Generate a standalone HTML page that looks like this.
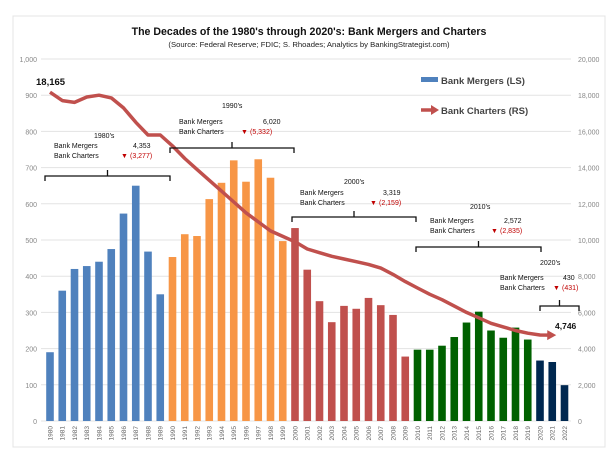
<!DOCTYPE html>
<html><head><meta charset="utf-8"><style>
body{margin:0;background:#fff;}
svg{display:block;font-family:"Liberation Sans",sans-serif;}
</style></head><body>
<svg id="chart" width="613" height="457" viewBox="0 0 613 457">
<rect x="13" y="16" width="592" height="431" fill="#fff" stroke="#e4e4e4"/>
<text x="309" y="35" text-anchor="middle" font-size="10.6" font-weight="bold" fill="#111">The Decades of the 1980's through 2020's: Bank Mergers and Charters</text>
<text x="309" y="47" text-anchor="middle" font-size="7.7" fill="#222">(Source: Federal Reserve; FDIC; S. Rhoades; Analytics by BankingStrategist.com)</text>
<g id="grid"></g><g id="bars"></g><g id="xlabels"></g><g id="line"></g>
<g>
<rect x="421" y="77" width="17" height="5" fill="#4f81bd"/>
<text x="441" y="84" font-size="9.5" font-weight="bold" fill="#444">Bank Mergers (LS)</text>
<path d="M421 110 L433 110" stroke="#c0504d" stroke-width="3.5"/>
<path d="M431 105 L439 110 L431 115 Z" fill="#c0504d"/>
<text x="441" y="114" font-size="9.5" font-weight="bold" fill="#444">Bank Charters (RS)</text>
</g>
<text x="36" y="85" font-size="9.5" font-weight="bold" fill="#111">18,165</text>
<text x="555" y="329" font-size="8.5" font-weight="bold" fill="#111">4,746</text>
<g id="ann" font-size="7" fill="#111"></g>
</svg>
<script>
const years=[];for(let y=1980;y<=2022;y++)years.push(y);
const mergers=[190,360,420,428,440,475,573,650,468,350,453,516,511,613,658,720,661,723,672,497,533,418,331,273,318,310,340,320,293,178,197,197,208,232,272,302,250,230,258,225,167,163,99];
const charters=[18165,17700,17600,17900,18000,17850,17300,16500,15800,15800,15200,14500,13900,13300,12700,12100,11500,11000,10500,10200,9900,9500,9300,9100,8950,8800,8650,8450,8100,7700,7350,7000,6700,6350,6000,5700,5400,5200,5000,4850,4750,4746];
const leftTicks=[0,100,200,300,400,500,600,700,800,900,1000];
const rightTicks=["0","2,000","4,000","6,000","8,000","10,000","12,000","14,000","16,000","18,000","20,000"];
const leftLabels=["0","100","200","300","400","500","600","700","800","900","1,000"];
const NS="http://www.w3.org/2000/svg";
const X=i=>50+i*12.25, YL=v=>421-v*0.362, YR=v=>421-v*0.0181;
function mk(t,a,p){const e=document.createElementNS(NS,t);for(const k in a)e.setAttribute(k,a[k]);p.appendChild(e);return e;}
const grid=document.getElementById('grid');
leftTicks.forEach((v,i)=>{
 const l=mk('line',{x1:41,x2:571,y1:YL(v),y2:YL(v),stroke:'#e3e3e3','stroke-width':1},grid);
 
 
 const t=mk('text',{x:37,y:YL(v)+3,'text-anchor':'end','font-size':7,fill:'#888'},grid);t.textContent=leftLabels[i];
 
 
 const r=mk('text',{x:578,y:YL(v)+3,'font-size':7,fill:'#888'},grid);r.textContent=rightTicks[i];
 
 
});
const cols=['#4f81bd','#f79646','#c0504d','#006100','#002850'];
const bars=document.getElementById('bars'),xl=document.getElementById('xlabels');
mergers.forEach((v,i)=>{
 const c=cols[Math.min(4,Math.floor(i/10))];
 const b=mk('rect',{x:X(i)-3.8,y:YL(v),width:7.6,height:YL(0)-YL(v),fill:c},bars);
 
 
 const t=mk('text',{x:0,y:0,'font-size':6.5,fill:'#666','text-anchor':'end',transform:`translate(${X(i)+2.3},426) rotate(-90)`},xl);t.textContent=years[i];
 
 
});
const lg=document.getElementById('line');
const pts=charters.map((v,i)=>[X(i),YR(v)]);
const last=pts[pts.length-1];
const d=pts.map((p,i)=>(i?'L':'M')+p[0].toFixed(1)+' '+p[1].toFixed(1)).join(' ');
const pl=mk('path',{d:d,fill:'none',stroke:'#c0504d','stroke-width':3.5,'stroke-linejoin':'round'},lg);


const pp=pts[pts.length-2],ang=Math.atan2(last[1]-pp[1],last[0]-pp[0]);
const ax=last[0]+4*Math.cos(ang),ay=last[1]+4*Math.sin(ang);
const h=mk('path',{d:`M${ax} ${ay} L${ax-9*Math.cos(ang)+5*Math.sin(ang)} ${ay-9*Math.sin(ang)-5*Math.cos(ang)} L${ax-9*Math.cos(ang)-5*Math.sin(ang)} ${ay-9*Math.sin(ang)+5*Math.cos(ang)} Z`,fill:'#c0504d'},lg);


const ann=document.getElementById('ann');
const decades=[
 {n:"1980's",m:"4,353",c:"(3,277)",hx:94,hy:138,lx:54,my:148,vx:133,tx:121,x1:45,x2:170,by:176},
 {n:"1990's",m:"6,020",c:"(5,332)",hx:222,hy:108,lx:179,my:124,vx:263,tx:241,x1:170,x2:294,by:148},
 {n:"2000's",m:"3,319",c:"(2,159)",hx:344,hy:184,lx:300,my:195,vx:383,tx:370,x1:292,x2:416,by:217},
 {n:"2010's",m:"2,572",c:"(2,835)",hx:470,hy:209,lx:430,my:223,vx:504,tx:491,x1:416,x2:541,by:247},
 {n:"2020's",m:"430",c:"(431)",hx:540,hy:265,lx:500,my:280,vx:563,tx:553,x1:540,x2:579,by:306}];
decades.forEach(o=>{
 const g=mk('g',{},ann);
 
 
 const T=(x,y,s,f)=>{const t=mk('text',{x:x,y:y,fill:f||'#111'},g);t.textContent=s;return t;};
 T(o.hx,o.hy,o.n);T(o.lx,o.my,'Bank Mergers');T(o.vx,o.my,o.m);
 T(o.lx,o.my+10,'Bank Charters');T(o.tx,o.my+10,'▼','#c00000');T(o.tx+9,o.my+10,o.c,'#c00000');
 const cx=(o.x1+o.x2)/2;
 mk('path',{d:`M${o.x1} ${o.by+5} L${o.x1} ${o.by} L${o.x2} ${o.by} L${o.x2} ${o.by+5} M${cx} ${o.by} L${cx} ${o.by-6}`,fill:'none',stroke:'#111','stroke-width':1.3},g);
});
</script>
</body></html>
